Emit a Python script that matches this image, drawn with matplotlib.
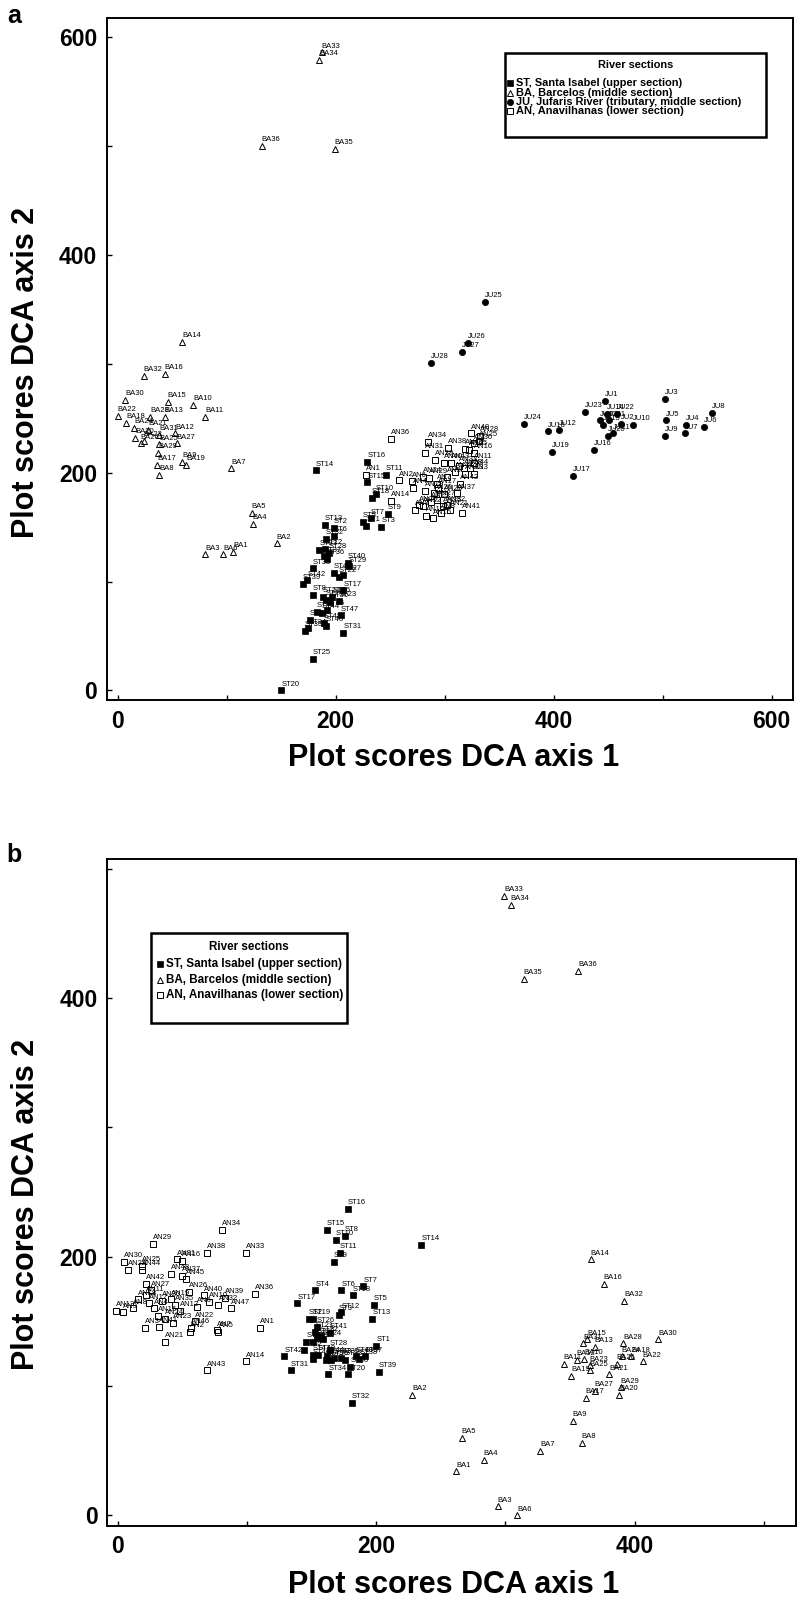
import matplotlib
matplotlib.use('Agg')
import matplotlib.pyplot as plt
from matplotlib.lines import Line2D
from matplotlib.patches import Rectangle

plt.rcParams['font.family'] = ['Liberation Sans', 'DejaVu Sans']

# ---------------- panel a data ----------------
a_st_labels = ['ST14', 'ST13', 'ST2', 'ST6', 'ST32', 'ST33', 'ST12', 'ST37', 'ST36', 'ST38',
               'ST40', 'ST29', 'ST4', 'ST22', 'ST27', 'ST42', 'ST39', 'ST17', 'ST8', 'ST23',
               'ST21', 'ST24', 'ST26', 'ST30', 'ST47', 'ST43', 'ST44', 'ST45', 'ST48', 'ST46',
               'ST41', 'ST34', 'ST35', 'ST31', 'ST25', 'ST20', 'ST16', 'ST15', 'ST11', 'ST10',
               'ST18', 'ST9', 'ST7', 'ST5', 'ST1', 'ST3', 'ST28']
a_st_x = [182, 190, 198, 198, 191, 185, 190, 189, 192, 179,
          211, 212, 198, 203, 207, 174, 170, 207, 179, 203,
          188, 191, 197, 195, 205, 183, 187, 192, 189, 191,
          176, 175, 172, 207, 179, 150, 229, 229, 246, 237,
          233, 248, 232, 225, 228, 242, 194]
a_st_y = [202, 152, 149, 142, 139, 129, 130, 123, 121, 112,
          117, 114, 108, 104, 106, 101, 98, 92, 88, 82,
          86, 83, 86, 81, 69, 72, 71, 74, 62, 59,
          65, 57, 55, 53, 29, 0, 210, 191, 198, 180,
          177, 162, 158, 155, 151, 150, 126]

a_ba_labels = ['BA%d' % i for i in range(1, 37)]
a_ba_x = [106, 146, 80, 124, 123, 97, 104, 38, 59, 69, 80, 53, 43, 59, 46, 43, 36, 8,
          63, 16, 28, 0, 24, 15, 38, 21, 54, 30, 37, 7, 38, 24, 187, 185, 199, 132]
a_ba_y = [127, 135, 125, 153, 163, 125, 204, 198, 210, 262, 251, 236, 251, 320, 265, 291, 207, 246,
          207, 232, 239, 252, 229, 241, 226, 227, 227, 251, 218, 267, 235, 289, 586, 579, 497, 500]

a_ju_labels = ['JU%d' % i for i in range(1, 29)]
a_ju_x = [447, 462, 502, 521, 503, 538, 520, 545, 502, 473, 451, 405, 442, 449,
          445, 437, 418, 395, 398, 450, 454, 458, 429, 373, 337, 321, 316, 287]
a_ju_y = [266, 245, 268, 244, 248, 242, 236, 255, 234, 244, 248, 239, 248, 254,
          244, 221, 197, 238, 219, 234, 236, 254, 256, 245, 357, 319, 311, 301]

a_an_labels = ['AN36', 'AN34', 'AN31', 'AN38', 'AN48', 'AN28', 'AN25', 'AN30', 'AN46', 'AN45',
               'AN16', 'AN39', 'AN40', 'AN43', 'AN33', 'AN18', 'AN11', 'AN44', 'AN13', 'AN3',
               'AN1', 'AN2', 'AN6', 'AN4', 'AN24', 'AN29', 'AN7', 'AN17', 'AN42', 'AN14',
               'AN19', 'AN20', 'AN22', 'AN37', 'AN27', 'AN23', 'AN26', 'AN9', 'AN12', 'AN35',
               'AN8', 'AN10', 'AN15', 'AN41', 'AN21', 'AN32', 'AN47', 'AN5']
a_an_x = [251, 285, 282, 303, 324, 332, 331, 327, 319, 322,
          327, 291, 299, 306, 313, 318, 327, 323, 319, 327,
          228, 258, 270, 271, 280, 286, 293, 294, 314, 251,
          282, 290, 299, 311, 293, 287, 276, 273, 280, 298,
          297, 283, 289, 316, 305, 302, 309, 302]
a_an_y = [231, 228, 218, 223, 236, 234, 229, 227, 222, 221,
          218, 212, 209, 209, 206, 204, 209, 204, 199, 199,
          198, 193, 192, 186, 196, 195, 190, 186, 190, 174,
          183, 181, 180, 181, 175, 173, 170, 166, 169, 169,
          163, 160, 158, 163, 166, 170, 201, 196]

# ---------------- panel b data ----------------
b_st_labels = ['ST%d' % i for i in range(1, 49)]
b_st_x = [200, 148, 171, 153, 198, 173, 190, 176, 167, 169, 172, 173, 197, 235, 162, 178,
          139, 182, 151, 178, 153, 157, 154, 159, 151, 154, 146, 164, 144, 165, 134, 181,
          176, 163, 173, 180, 191, 187, 202, 184, 164, 129, 167, 162, 161, 151, 151, 155]
b_st_y = [131, 152, 155, 174, 163, 174, 177, 216, 196, 213, 203, 157, 152, 209, 221, 237,
          164, 170, 152, 109, 142, 139, 137, 136, 134, 146, 134, 128, 128, 120, 112, 87,
          120, 109, 122, 115, 123, 121, 111, 123, 141, 123, 122, 123, 120, 121, 124, 124]

b_ba_labels = ['BA%d' % i for i in range(1, 37)]
b_ba_x = [262, 228, 294, 283, 266, 309, 327, 359, 352, 361, 345, 355, 369, 366, 363, 376, 362, 397,
          351, 388, 380, 406, 365, 390, 365, 386, 369, 391, 389, 418, 360, 392, 299, 304, 314, 356]
b_ba_y = [34, 93, 7, 43, 60, 0, 50, 56, 73, 121, 117, 120, 130, 198, 136, 179, 91, 123,
          108, 93, 109, 119, 116, 123, 112, 117, 96, 133, 99, 136, 133, 166, 479, 472, 415, 421]

b_an_labels = ['AN34', 'AN29', 'AN33', 'AN38', 'AN30', 'AN28', 'AN25', 'AN44', 'AN31', 'AN16',
               'AN48', 'AN37', 'AN45', 'AN26', 'AN42', 'AN18', 'AN11', 'AN17', 'AN20', 'AN19',
               'AN35', 'AN6', 'AN40', 'AN10', 'AN32', 'AN39', 'AN36', 'AN13', 'AN9', 'AN15',
               'AN24', 'AN23', 'AN3', 'AN41', 'AN21', 'AN2', 'AN46', 'AN7', 'AN5', 'AN1',
               'AN14', 'AN43', 'AN4', 'AN8', 'AN12', 'AN22', 'AN27', 'AN47']
b_an_x = [81, 27, 99, 69, 5, 8, 19, 19, 46, 50,
          41, 50, 53, 55, 22, 16, 22, 24, 34, 41,
          44, 61, 67, 71, 78, 83, 106, -1, 4, 31,
          37, 43, 21, 32, 37, 56, 57, 77, 78, 110,
          99, 69, 28, 12, 48, 60, 26, 88]
b_an_y = [221, 210, 203, 203, 196, 190, 193, 190, 198, 197,
          187, 185, 183, 173, 179, 167, 170, 164, 166, 167,
          163, 161, 170, 165, 163, 168, 171, 158, 157, 154,
          152, 149, 145, 146, 134, 142, 145, 143, 142, 145,
          119, 112, 160, 160, 158, 150, 174, 160]

legend_a = ['ST, Santa Isabel (upper section)', 'BA, Barcelos (middle section)',
            'JU, Jufaris River (tributary, middle section)', 'AN, Anavilhanas (lower section)']
legend_b = ['ST, Santa Isabel (upper section)', 'BA, Barcelos (middle section)',
            'AN, Anavilhanas (lower section)']

ST_MK = dict(marker='s', ms=4, mfc='k', mec='k', mew=0.5)
BA_MK = dict(marker='^', ms=4.2, mfc='none', mec='k', mew=0.7)
JU_MK = dict(marker='o', ms=4.5, mfc='k', mec='k', mew=0.5)
AN_MK = dict(marker='s', ms=4.2, mfc='none', mec='k', mew=0.7)

W, H = 801, 1600
fig = plt.figure(figsize=(W / 100, H / 100), dpi=100)


def fx(x):
    return x / W


def fy(y):
    return 1 - y / H


def draw_group(ax, labels, xs, ys, mk):
    ax.plot(xs, ys, ls='none', **mk)
    for lab, x, y in zip(labels, xs, ys):
        ax.annotate(lab, (x, y), xytext=(0, 3.4), textcoords='offset points',
                    fontsize=5.5, ha='left', va='baseline')


def style_axes(ax, xlim, ylim, xmaj, ymaj, minor):
    ax.set_xlim(xlim)
    ax.set_ylim(ylim)
    ax.set_xticks(xmaj)
    ax.set_yticks(ymaj)
    ax.set_xticks(minor, minor=True)
    ax.set_yticks(minor, minor=True)
    ax.tick_params(which='both', direction='in', length=3.5, width=1)
    ax.tick_params(axis='both', labelsize=16.5, pad=7)
    for t in ax.get_xticklabels() + ax.get_yticklabels():
        t.set_fontweight('bold')
    for s in ax.spines.values():
        s.set_linewidth(1.4)


def draw_key(box, title_y, rows, mx, tx, entries, marks, size):
    x0, y0, x1, y1 = box
    fig.add_artist(Rectangle((fx(x0), fy(y1)), (x1 - x0) / W, (y1 - y0) / H,
                             transform=fig.transFigure, fill=False, lw=1.8, ec='k'))
    fig.text(fx((x0 + x1) / 2), fy(title_y), 'River sections', ha='center', va='center',
             fontsize=size, fontweight='bold')
    for lab, mk, y in zip(entries, marks, rows):
        fig.add_artist(Line2D([fx(mx)], [fy(y)], transform=fig.transFigure, ls='none', **mk))
        fig.text(fx(tx), fy(y), lab, ha='left', va='center', fontsize=size, fontweight='bold')


# ---------------- panel a ----------------
ax_a = fig.add_axes([fx(107), fy(700), 686 / W, 682 / H])
draw_group(ax_a, a_ba_labels, a_ba_x, a_ba_y, BA_MK)
draw_group(ax_a, a_an_labels, a_an_x, a_an_y, AN_MK)
draw_group(ax_a, a_ju_labels, a_ju_x, a_ju_y, JU_MK)
draw_group(ax_a, a_st_labels, a_st_x, a_st_y, ST_MK)
style_axes(ax_a, (-9.8, 619.5), (-8.8, 617.5), [0, 200, 400, 600], [0, 200, 400, 600],
           [100, 300, 500])

# ---------------- panel b ----------------
ax_b = fig.add_axes([fx(107.3), fy(1525.5), 688.7 / W, 666.5 / H])
draw_group(ax_b, b_ba_labels, b_ba_x, b_ba_y, BA_MK)
draw_group(ax_b, b_an_labels, b_an_x, b_an_y, AN_MK)
draw_group(ax_b, b_st_labels, b_st_x, b_st_y, ST_MK)
style_axes(ax_b, (-8, 524.7), (-7.9, 507.6), [0, 200, 400], [0, 200, 400], [100, 300, 500])

# axis titles and panel letters
lab_kw = dict(fontsize=22, fontweight='bold', ha='center', va='center')
fig.text(fx(26), fy(372), 'Plot scores DCA axis 2', rotation=90, **lab_kw)
fig.text(fx(454), fy(758), 'Plot scores DCA axis 1', **lab_kw)
fig.text(fx(26), fy(1204), 'Plot scores DCA axis 2', rotation=90, **lab_kw)
fig.text(fx(454), fy(1585), 'Plot scores DCA axis 1', **lab_kw)
fig.text(fx(14), fy(16), 'a', fontsize=18, fontweight='bold', ha='center', va='center')
fig.text(fx(14), fy(855), 'b', fontsize=18, fontweight='bold', ha='center', va='center')

# keys
draw_key((505, 53, 766, 137), 65, [83.3, 92.7, 102, 110.7], 510, 516,
         legend_a, [ST_MK, BA_MK, JU_MK, AN_MK], 7.9)
draw_key((151, 933, 347, 1023), 947, [964, 980, 995], 160, 166,
         legend_b, [ST_MK, BA_MK, AN_MK], 8.4)

fig.savefig('out.png', dpi=100, facecolor='white')
